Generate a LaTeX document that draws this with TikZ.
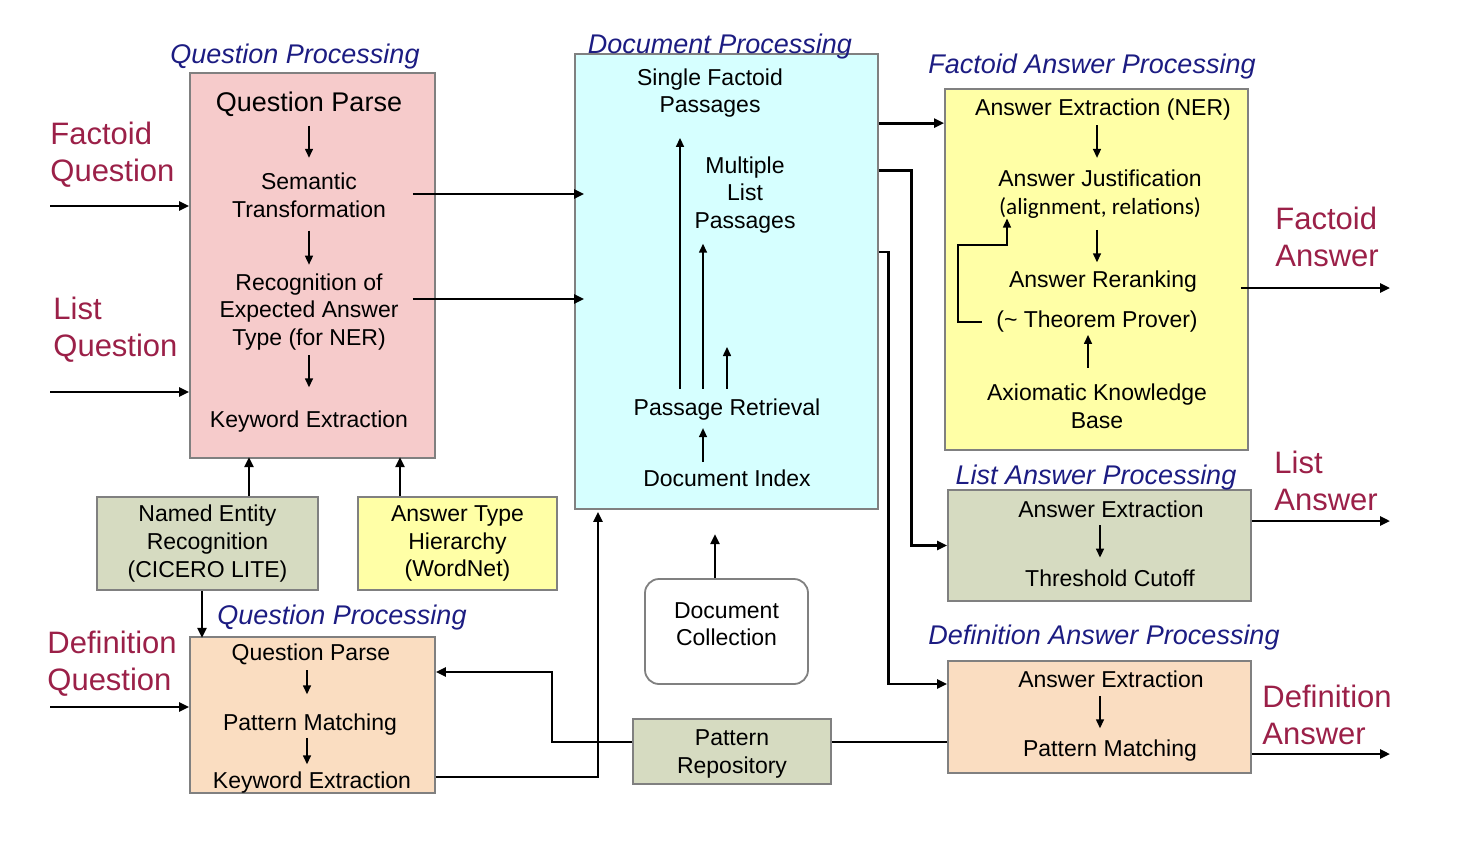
\documentclass[tikz,border=0pt]{standalone}
\usepackage{fontspec}
\setmainfont{Liberation Sans}
\newfontfamily\calibri{Carlito}
\usepackage{tikz}
\usetikzlibrary{arrows.meta}
\usetikzlibrary{calc}

\definecolor{qpink}{RGB}{246,203,203}
\definecolor{dcyan}{RGB}{214,255,255}
\definecolor{ayellow}{RGB}{255,255,166}
\definecolor{sage}{RGB}{214,219,193}
\definecolor{peach}{RGB}{250,221,193}
\definecolor{navy}{RGB}{28,28,130}
\definecolor{wine}{RGB}{155,32,72}

\begin{document}
\begin{tikzpicture}[x=0.5pt, y=-0.5pt, >={Triangle[length=4.5pt,width=4pt]},
    box/.style = {draw=gray, line width=0.9pt, inner sep=0pt, align=center, font=\fontsize{11.5}{13.8}\selectfont},
    txt/.style = {inner sep=0pt, align=center, font=\fontsize{11.5}{13.8}\selectfont},
    title/.style = {inner sep=0pt, text=navy, font=\fontsize{13.5}{16}\selectfont\itshape},
    io/.style = {inner sep=0pt, align=left, text=wine, font=\fontsize{15.5}{18.5}\selectfont},
    link/.style = {line width=1.4pt},
    flow/.style = {link, ->, >={Triangle[length=5pt,width=4.5pt]}},
    inarrow/.style = {->, line width=0.75pt, shorten <=5pt, shorten >=5pt}]
    \useasboundingbox (0,0) rectangle (1470,846);

    % Nodes
    \node[box, fill=qpink, minimum width=122.5pt, minimum height=192.5pt] (qp) at (312.5,265.5) {};
    \node[title] (qpt) at (295,57) {Question Processing};
    \node[txt, font=\fontsize{13.5}{16}\selectfont] (qparse) at (309,104) {Question Parse};
    \node[txt] (qsem) at (309,195) {Semantic\\Transformation};
    \node[txt] (qrec) at (309,312) {Recognition of\\Expected Answer\\Type (for NER)};
    \node[txt] (qkey) at (309,422) {Keyword Extraction};

    \node[box, fill=dcyan, minimum width=151.5pt, minimum height=227.5pt] (dp) at (726.5,281.5) {};
    \node[title] (dpt) at (720,47) {Document Processing};
    \node[txt] (single) at (710,93) {Single Factoid\\Passages};
    \node[txt] (multi) at (745,195) {Multiple\\List\\Passages};
    \node[txt] (retr) at (727,410) {Passage Retrieval};
    \node[txt] (index) at (727,478) {Document Index};
    \coordinate (third) at (727,347);

    \node[box, fill=ayellow, minimum width=151.5pt, minimum height=180.5pt] (fa) at (1096.5,269.5) {};
    \node[title] (fat) at (1092,67) {Factoid Answer Processing};
    \node[txt] (aner) at (1103,110) {Answer Extraction (NER)};
    \node[txt] (ajust) at (1100,194) {Answer Justification\\{\calibri\fontsize{11.6}{13.8}\selectfont (alignment, relations)}};
    \node[txt] (arerank) at (1103,282) {Answer Reranking};
    \node[txt] (atheorem) at (1097,322) {(\textasciitilde\ Theorem Prover)};
    \node[txt] (axiom) at (1097,406) {Axiomatic Knowledge\\Base};

    \node[box, fill=sage, minimum width=151.5pt, minimum height=55.5pt] (la) at (1099.5,545.5) {};
    \node[title] (lat) at (1096,478) {List Answer Processing};
    \node[txt] (lext) at (1111,509) {Answer Extraction};
    \node[txt] (lcut) at (1110,578) {Threshold Cutoff};

    \node[box, fill=peach, minimum width=151.5pt, minimum height=56pt] (da) at (1099.5,717) {};
    \node[title] (dat) at (1104,638) {Definition Answer Processing};
    \node[txt] (dext) at (1111,679) {Answer Extraction};
    \node[txt] (dmatch) at (1110,751) {Pattern Matching};

    \node[box, fill=sage, minimum width=110.5pt, minimum height=46.5pt] (ner) at (207.5,543.5) {Named Entity\\Recognition\\(CICERO LITE)};
    \node[box, fill=ayellow, minimum width=99.5pt, minimum height=46.5pt] (ath) at (457.5,543.5) {Answer Type\\Hierarchy\\(WordNet)};

    \node[box, fill=peach, minimum width=122.5pt, minimum height=78pt] (dqp) at (312.5,715) {};
    \node[title] (dqpt) at (342,618) {Question Processing};
    \node[txt] (dparse) at (311,654) {Question Parse};
    \node[txt] (dmatchq) at (310,725) {Pattern Matching};
    \node[txt] (dkey) at (312,783) {Keyword Extraction};

    \node[box, fill=sage, minimum width=99pt, minimum height=32.5pt, text depth=-6pt] (pr) at (732,751.5) {Pattern\\Repository};
    \node[box, fill=white, rounded corners=7pt, minimum width=81.5pt, minimum height=52.5pt, text depth=7.5pt] (dc) at (726.5,631.5) {Document\\Collection};

    \node[io, anchor=west] (fqlab) at (50,154.5) {Factoid\\Question};
    \node[io, anchor=west] (lqlab) at (53,330) {List\\Question};
    \node[io, anchor=west] (dqlab) at (47,663.5) {Definition\\Question};
    \node[io, anchor=west] (falab) at (1275,236.5) {Factoid\\Answer};
    \node[io, anchor=west] (lalab) at (1274,481) {List\\Answer};
    \node[io, anchor=west] (dalab) at (1262,714.5) {Definition\\Answer};

    \coordinate (fq) at (50,206);
    \coordinate (lq) at (50,392);
    \coordinate (dq) at (50,707);
    \coordinate (faout) at (1390,288);
    \coordinate (laout) at (1390,521);
    \coordinate (daout) at (1390,754);

    % Edges inside the boxes
    \draw[inarrow, shorten <=4.5pt, shorten >=7.3pt] (qparse) -- (qsem);
    \draw[inarrow, shorten <=6.5pt, shorten >=4.3pt] (qsem) -- (qrec);
    \draw[inarrow, shorten <=2.3pt, shorten >=11.8pt] (qrec) -- (qkey);

    \draw[inarrow, shorten >=0pt] ($(retr.north)+(-47,0)$) -- ($(single.south)+(-30,20)$);
    \draw[inarrow] ($(retr.north)+(-24,0)$) -- ($(multi.south)+(-42,0)$);
    \draw[inarrow, shorten >=0pt] (retr) -- (third);
    \draw[inarrow, shorten <=3.5pt, shorten >=3.5pt] ($(index.north)+(-24,0)$) -- ($(retr.south)+(-24,0)$);

    \draw[inarrow, shorten <=2pt, shorten >=5.8pt] ($(aner.south)+(-6,0)$) -- ($(ajust.north)+(-3,0)$);
    \draw[inarrow, shorten <=5.7pt, shorten >=4.3pt] ($(ajust.south)+(-3,0)$) -- ($(arerank.north)+(-6,0)$);
    \draw[inarrow, shorten <=7.8pt, shorten >=0.9pt] ($(axiom.north)+(-9,0)$) -- ($(atheorem.south)+(-9,0)$);
    \draw[->, line width=0.75pt] ($(atheorem.west)+(-14,0)$) -| ($(fa.west)+(14,-24.5)$) -| ($(ajust.south west)+(9,0)$);

    \draw[inarrow, shorten <=3.8pt, shorten >=5.8pt] ($(lext.south)+(-11,0)$) -- ($(lcut.north)+(-10,0)$);
    \draw[inarrow, shorten <=4.3pt, shorten >=5.8pt] ($(dext.south)+(-11,0)$) -- ($(dmatch.north)+(-10,0)$);

    \draw[inarrow, shorten <=2.7pt, shorten >=9.8pt] ($(dparse.south)+(-4,0)$) -- ($(dmatchq.north)+(-3,0)$);
    \draw[inarrow, shorten <=0.9pt, shorten >=3.8pt] ($(dmatchq.south)+(-3,0)$) -- ($(dkey.north)+(-5,0)$);

    % Edges between the boxes
    \draw[flow] (fq) -- (fq -| qp.west);
    \draw[flow] (lq) -- (lq -| qp.west);
    \draw[flow] (dq) -- (dq -| dqp.west);

    \draw[flow] ($(qp.east |- qsem)+(-23,-1)$) -- ($(dp.west |- qsem)+(10,-1)$);
    \draw[flow] ($(qp.east |- qrec)+(-23,-13)$) -- ($(dp.west |- qrec)+(10,-13)$);

    \draw[flow] ($(dp.east |- fa.north)+(0,35)$) -- ($(fa.north west)+(0,35)$);
    \draw[flow] ($(dp.east |- fa.north)+(0,82)$) -| ($(la.west)+(-36,0)$) -- (la.west);
    \draw[flow] ($(dp.east)+(0,-29.5)$) -| ($(da.west)+(-59,-33)$) -- ($(da.west)+(0,-33)$);

    \draw[flow] ($(faout -| fa.east)+(-8,0)$) -- (faout);
    \draw[flow] (laout -| la.east) -- (laout);
    \draw[flow] (daout -| da.east) -- (daout);

    \draw[flow] ($(ner.north)+(41.5,0)$) -- ++(0,-39);
    \draw[flow] ($(ath.north)+(-57.5,0)$) -- ++(0,-39);
    \draw[flow] ($(ner.south)+(-5.5,0)$) -- ++(0,47);

    \draw[flow] ($(dqp.east)+(0,62)$) -| ($(dp.south)+(-128.5,2)$);
    \draw[flow] ($(pr.west)+(0,-9.5)$) -| ($(dqp.east)+(116,-43)$) -- ($(dqp.east)+(0,-43)$);
    \draw[link] ($(pr.east)+(0,-9.5)$) -- ($(da.west)+(0,25)$);
    \draw[flow] ($(dc.north)+(-11.5,0)$) -- ++(0,-44);

\end{tikzpicture}
\end{document}
